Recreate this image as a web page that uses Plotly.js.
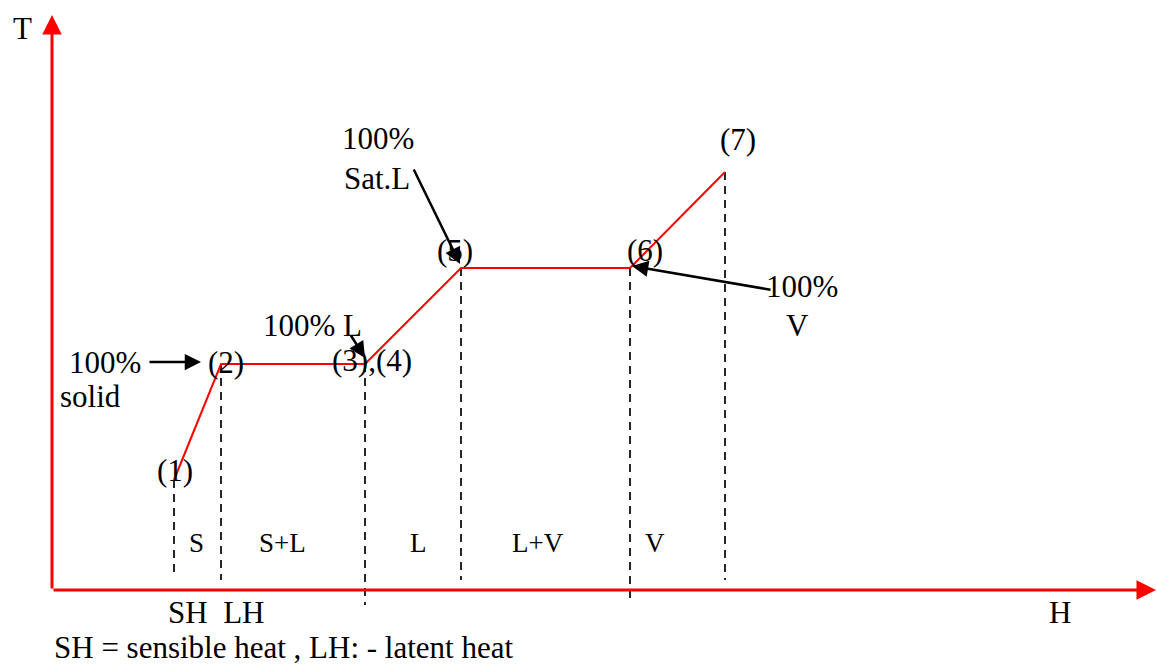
<!DOCTYPE html>
<html><head><meta charset="utf-8">
<script src="https://cdn.plot.ly/plotly-3.0.1.min.js"></script>
<style>body{margin:0;background:#fff}#c{width:1156px;height:666px}</style>
</head><body><div id="c"></div>
<script>
// Heating curve: enthalpy H (x) vs temperature T (y), origin at axes crossing
const curveH = [122, 169, 313, 409, 578, 673];
const curveT = [110, 226, 226, 322, 322, 418];
const pointLabels = ["(1)", "(2)", "(3),(4)", "(5)", "(6)", "(7)"];
const dropBottom = [12, 10, -15, 10, -10, 10];
const regionLabels = ["S", "S+L", "L", "L+V", "V"];
const regionH = [144, 230, 366, 486, 603];
const regionT = 47;

const F = "Liberation Serif, Times New Roman, serif";
const traces = [];
curveH.forEach((h, i) => {
  traces.push({x: [h, h], y: [curveT[i], dropBottom[i]], mode: "lines",
    line: {color: "#000", width: 1.7, dash: "8px,6px"}, hoverinfo: "skip", showlegend: false});
});
traces.push({x: curveH, y: curveT, mode: "lines", line: {color: "#ff0000", width: 2},
  hoverinfo: "skip", showlegend: false});

const ann = [];
ann.push({x: 1104, y: 0, ax: 0, ay: 0, xref: "x", yref: "y", axref: "x", ayref: "y",
  showarrow: true, arrowhead: 2, arrowsize: 1.3, arrowwidth: 3, arrowcolor: "#ff0000", text: ""});
ann.push({x: 0, y: 575, ax: 0, ay: 0, xref: "x", yref: "y", axref: "x", ayref: "y",
  showarrow: true, arrowhead: 2, arrowsize: 1.3, arrowwidth: 3, arrowcolor: "#ff0000", text: ""});
function txt(t, x, y, s) {
  ann.push({text: t, x: x, y: y, xref: "x", yref: "y", showarrow: false,
    font: {family: F, size: s || 31, color: "#000"}, xanchor: "center", yanchor: "middle"});
}
const labelPos = [[123, 120], [174, 228], [320, 230], [403, 340], [593, 340], [686, 451]];
pointLabels.forEach((t, i) => txt(t, labelPos[i][0], labelPos[i][1]));
regionLabels.forEach((t, i) => txt(t, regionH[i], regionT, 27));
txt("T", -30, 562);
txt("H", 1008, -22);
txt("SH  LH", 164, -22);
ann.push({text: "SH = sensible heat , LH: - latent heat", x: 0, y: -57, xref: "x", yref: "y",
  showarrow: false, xanchor: "left", yanchor: "middle", font: {family: F, size: 31, color: "#000"}});
txt("100%", 53, 228); txt("solid", 38, 194);
txt("100% L", 260, 265);
txt("100%", 326, 452); txt("Sat.L", 325, 412);
txt("100%", 750, 304); txt("V", 745, 265);
function arr(x, y, ax, ay) {
  ann.push({x: x, y: y, ax: ax, ay: ay, xref: "x", yref: "y", axref: "x", ayref: "y", text: "",
    showarrow: true, arrowhead: 2, arrowsize: 1.3, arrowwidth: 2.5, arrowcolor: "#000"});
}
arr(149, 228, 96, 228);
arr(313, 232, 298, 256);
arr(408, 326, 361, 422);
arr(580, 324, 720, 300);

Plotly.newPlot("c", traces, {
  width: 1156, height: 666, margin: {l: 0, r: 0, t: 0, b: 0},
  paper_bgcolor: "#fff", plot_bgcolor: "#fff",
  xaxis: {range: [-52, 1104], visible: false, fixedrange: true},
  yaxis: {range: [-76, 590], visible: false, fixedrange: true},
  annotations: ann
}, {staticPlot: true});
</script></body></html>
